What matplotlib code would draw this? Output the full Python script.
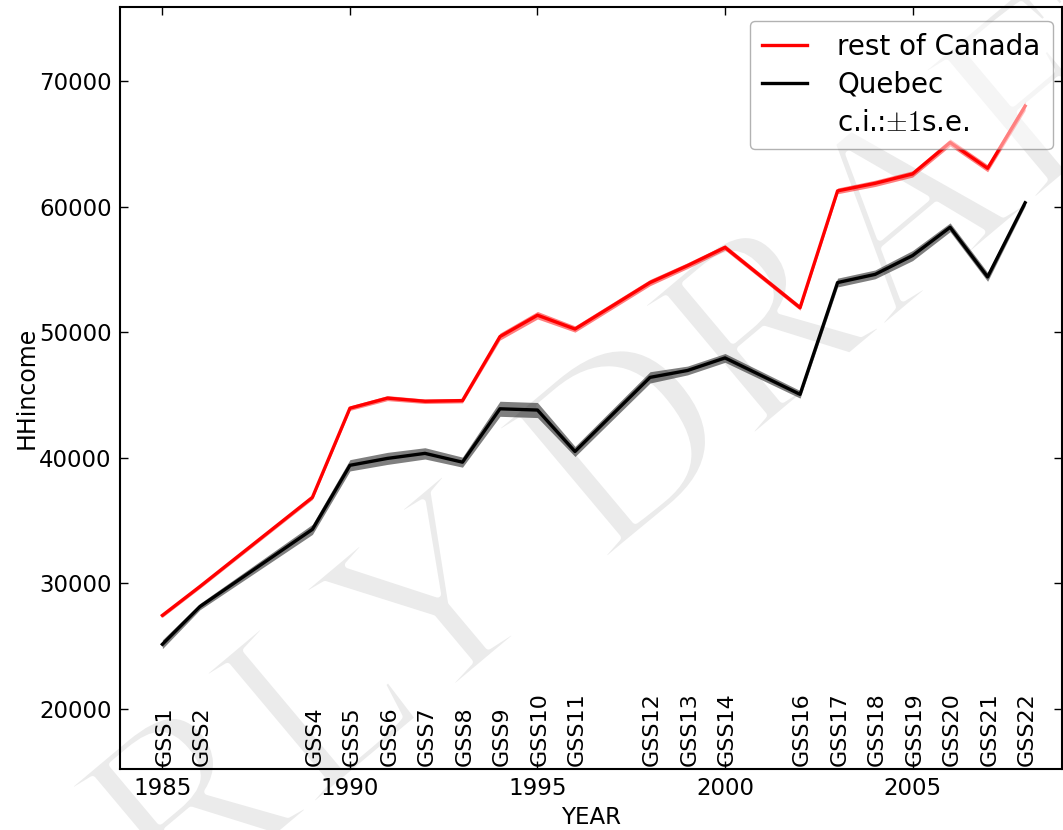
import matplotlib
matplotlib.use("Agg")
import matplotlib.pyplot as plt
from matplotlib.lines import Line2D
import matplotlib.patheffects as pe
import numpy as np

plt.rcParams['font.family'] = ['DejaVu Sans']
plt.rcParams['mathtext.fontset'] = 'cm'

years = [1985, 1986, 1989, 1990, 1991, 1992, 1993, 1994, 1995, 1996,
         1998, 1999, 2000, 2002, 2003, 2004, 2005, 2006, 2007, 2008]
gss_labels = ['GSS1', 'GSS2', 'GSS4', 'GSS5', 'GSS6', 'GSS7', 'GSS8', 'GSS9',
              'GSS10', 'GSS11', 'GSS12', 'GSS13', 'GSS14', 'GSS16', 'GSS17',
              'GSS18', 'GSS19', 'GSS20', 'GSS21', 'GSS22']
roc = [27450, 29750, 36850, 43950, 44750, 44500, 44550, 49650, 51350, 50250,
       53950, 55300, 56750, 51950, 61250, 61850, 62600, 65100, 63050, 68000]
roc_se = [150, 150, 170, 180, 200, 180, 180, 280, 300, 250,
          250, 230, 220, 200, 230, 250, 250, 280, 280, 350]
qc = [25150, 28150, 34300, 39400, 39950, 40350, 39650, 43900, 43800, 40500,
      46400, 46950, 47950, 45050, 53950, 54600, 56100, 58350, 54400, 60300]
qc_se = [350, 250, 400, 450, 480, 450, 400, 600, 600, 400,
         450, 350, 350, 300, 350, 350, 400, 350, 350, 250]
xticks = [1985, 1990, 1995, 2000, 2005]
yticks = [20000, 30000, 40000, 50000, 60000, 70000]

W, H = 1063, 830
fig = plt.figure(figsize=(W / 100, H / 100), dpi=100)
ax = fig.add_axes([120 / W, 1 - 769 / H, 941.5 / W, 762 / H])
ax.patch.set_visible(False)

# watermark
wm = fig.text(584.5 / W, 1 - 579 / H, 'EARLY DRAFT', fontsize=190,
              family='Liberation Serif', color='#ebebeb', rotation=40,
              ha='center', va='baseline', rotation_mode='anchor', zorder=-5)
wm.set_path_effects([pe.Normal(), pe.Stroke(linewidth=5, foreground='white')])

x = np.array(years)
r = np.array(roc); rs = np.array(roc_se)
q = np.array(qc); qs = np.array(qc_se)
ax.fill_between(x, r - rs, r + rs, color='red', alpha=0.5, lw=0, zorder=2)
ax.fill_between(x, q - qs, q + qs, color='black', alpha=0.5, lw=0, zorder=2)
ax.plot(x, r, color='red', lw=2.4, zorder=3, label='rest of Canada')
ax.plot(x, q, color='black', lw=2.4, zorder=3, label='Quebec')

ax.set_xlim(1983.87, 2008.97)
ax.set_ylim(15220, 75890)
ax.set_xticks(xticks)
ax.set_yticks(yticks)
ax.tick_params(direction='in', top=True, right=True, length=6, width=1,
               labelsize=16.5, pad=6)
for s in ax.spines.values():
    s.set_linewidth(1.5)

for yr, lab in zip(years, gss_labels):
    ax.text(yr + 0.05, 15220 + 200, lab, rotation=90, ha='center', va='bottom',
            fontsize=16, zorder=4)

ax.set_xlabel('YEAR', fontsize=16.5, labelpad=4)
ax.set_ylabel('HHincome', fontsize=17, labelpad=0)

handles = [Line2D([], [], color='red', lw=2.4),
           Line2D([], [], color='black', lw=2.4),
           Line2D([], [], color='none')]
labels = ['rest of Canada', 'Quebec', r'c.i.:$\pm 1$s.e.']
leg = ax.legend(handles, labels, loc='upper right', fontsize=20, fancybox=True,
                framealpha=0.5, edgecolor='#666666', handlelength=1.6,
                handletextpad=1.1, labelspacing=0.35, borderpad=0.45,
                bbox_to_anchor=(1053 / W, 1 - 20.7 / H),
                bbox_transform=fig.transFigure, borderaxespad=0)
leg.get_frame().set_linewidth(1.0)
leg.set_zorder(5)

fig.savefig('out.png', dpi=100, facecolor='white')
